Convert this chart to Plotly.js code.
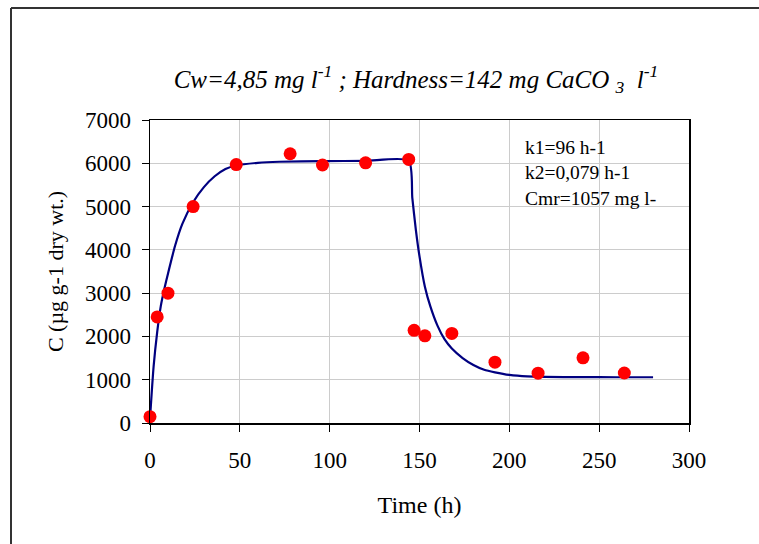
<!DOCTYPE html>
<html>
<head>
<meta charset="utf-8">
<script src="https://cdn.plot.ly/plotly-3.0.1.min.js"></script>
<style>
  html, body { margin: 0; padding: 0; background: #fff; }
  #chart { width: 759px; height: 544px; }
</style>
</head>
<body>
<div id="chart"></div>
<script>
// Measured data points
const timeObs = [0, 4, 10, 24, 48, 78, 96, 120, 144, 147, 153, 168, 192, 216, 241, 264];
const concObs = [145, 2450, 3000, 5000, 5970, 6220, 5960, 6010, 6090, 2140, 2015, 2070, 1405, 1150, 1505, 1155];

// Fitted model curve
const timeFit = [0, 2, 4, 6, 8, 10, 14, 18, 24, 30, 36, 42, 48, 60, 72, 96, 120, 144, 146, 148, 150, 153, 156, 160, 164, 168, 174, 180, 186, 192, 200, 210, 220, 240, 260, 280];
const concFit = [100, 1300, 2100, 2700, 3100, 3450, 4100, 4600, 5100, 5450, 5700, 5870, 5950, 6010, 6035, 6050, 6055, 6060, 5200, 4450, 3850, 3150, 2700, 2250, 1930, 1720, 1500, 1340, 1230, 1170, 1110, 1075, 1065, 1060, 1057, 1057];

const xTicks = [0, 50, 100, 150, 200, 250, 300];
const yTicks = [0, 1000, 2000, 3000, 4000, 5000, 6000, 7000];

const chartTitle = '<i>Cw=4,85 mg l<sup>-1</sup> ; Hardness=142 mg CaCO <sub>3</sub>  l<sup>-1</sup></i>';
const xTitle = 'Time (h)';
const yTitle = 'C (µg g-1 dry wt.)';
const noteText = 'k1=96 h-1<br>k2=0,079 h-1<br>Cmr=1057 mg l-';

const serif = 'Liberation Serif';

const traces = [
  {
    x: timeFit, y: concFit, type: 'scatter', mode: 'lines',
    line: { color: '#000080', width: 2.2, shape: 'spline', smoothing: 0.6 },
    hoverinfo: 'skip', showlegend: false
  },
  {
    x: timeObs, y: concObs, type: 'scatter', mode: 'markers',
    marker: { color: '#ff0000', size: 13 },
    showlegend: false, cliponaxis: false
  }
];

const axisCommon = {
  showline: true, linecolor: '#000', linewidth: 1.5, mirror: true,
  showgrid: true, gridcolor: '#cccccc', gridwidth: 1.2,
  ticks: 'outside', ticklen: 7, tickcolor: '#000', tickwidth: 1,
  zeroline: false,
  tickfont: { family: serif, size: 23, color: '#000' }
};

const layout = {
  width: 759, height: 544,
  font: { family: serif, color: '#000' },
  margin: { l: 150, r: 70, t: 120, b: 121 },
  paper_bgcolor: '#fff', plot_bgcolor: '#fff',
  title: {
    text: chartTitle,
    font: { family: serif, size: 25, color: '#000' },
    x: 416 / 759, xanchor: 'center', xref: 'container',
    y: 1 - 79 / 544, yanchor: 'middle', yref: 'container'
  },
  xaxis: Object.assign({}, axisCommon, {
    range: [0, 300], tickvals: xTicks, ticktext: xTicks.map(String),
    ticklabelstandoff: 9,
    title: { text: xTitle, font: { family: serif, size: 24, color: '#000' }, standoff: 24 }
  }),
  yaxis: Object.assign({}, axisCommon, {
    range: [0, 7000], tickvals: yTicks, ticktext: yTicks.map(String),
    ticklabelstandoff: 6,
    title: { text: yTitle, font: { family: serif, size: 22, color: '#000' }, standoff: 15 }
  }),
  annotations: [
    {
      text: noteText, xref: 'paper', yref: 'paper',
      x: (523 - 150) / 539, y: (423 - 135) / 303,
      xanchor: 'left', yanchor: 'top', align: 'left', showarrow: false,
      font: { family: serif, size: 19.5, color: '#000' }
    }
  ],
  shapes: [
    { type: 'line', xref: 'paper', yref: 'paper',
      x0: (11 - 150) / 539, x1: (11 - 150) / 539, y0: -1, y1: (423 - 8) / 303,
      line: { color: '#333', width: 2 } },
    { type: 'line', xref: 'paper', yref: 'paper',
      x0: (11 - 150) / 539, x1: 2, y0: (423 - 8) / 303, y1: (423 - 8) / 303,
      line: { color: '#333', width: 2 } }
  ]
};

Plotly.newPlot('chart', traces, layout, { displayModeBar: false, staticPlot: true });
</script>
</body>
</html>
